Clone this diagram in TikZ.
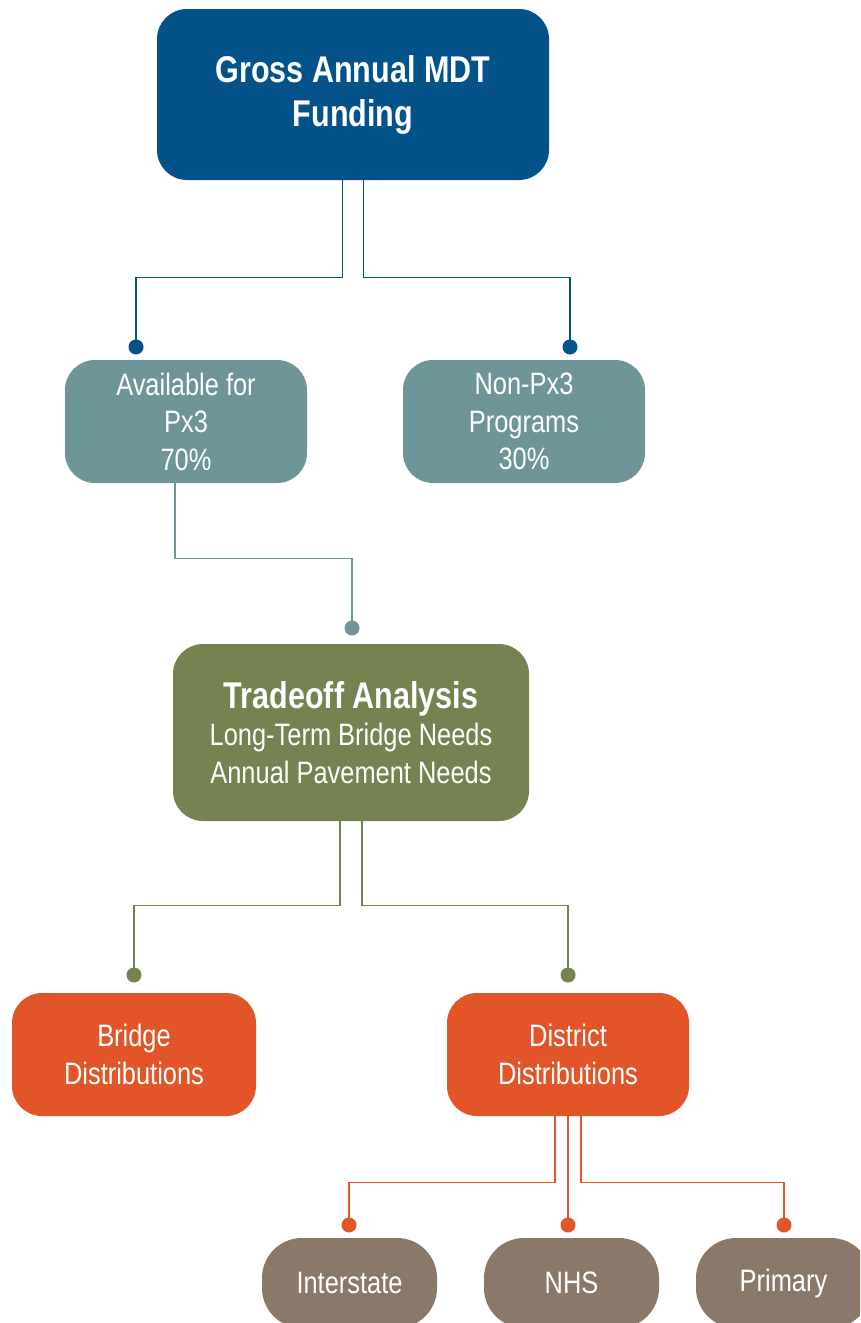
\documentclass[tikz,border=0pt]{standalone}
\usepackage{fontspec}
\setmainfont{Liberation Sans}[FakeStretch=0.82]
\definecolor{cblue}{HTML}{03538A}
\definecolor{cteal}{HTML}{6E9597}
\definecolor{colive}{HTML}{758350}
\definecolor{corange}{HTML}{E25528}
\definecolor{cbrown}{HTML}{8A7968}
\tikzset{
  box/.style={rounded corners=30pt, align=center, text=white, inner sep=0pt, font=\fontsize{31}{37.5}\selectfont},
  dotnode/.style={circle, inner sep=0pt, minimum size=15pt},
  conn/.style={line width=1.3pt},
}
\begin{document}
\begin{tikzpicture}[x=1pt,y=-1pt]
\clip (0,0) rectangle (860,1323);
\fill[white] (0,0) rectangle (860,1323);
% boxes
\node[box, fill=cblue, minimum width=392pt, minimum height=171pt, font=\bfseries\fontsize{37.2}{44}\selectfont] (top) at (353,94.5) {Gross Annual MDT\\Funding};
\node[box, fill=cteal, minimum width=242pt, minimum height=123pt] (avail) at (186,421.5) {Available for\\Px3\\70\%};
\node[box, fill=cteal, minimum width=242pt, minimum height=123pt] (nonpx) at (524,421.5) {Non-Px3\\Programs\\30\%};
\node[box, fill=colive, minimum width=356pt, minimum height=177pt] (trade) at (351,732.5) {{\bfseries\fontsize{37.2}{40}\selectfont Tradeoff Analysis}\\Long-Term Bridge Needs\\Annual Pavement Needs};
\node[box, fill=corange, minimum width=244pt, minimum height=123pt] (bridge) at (134,1054.5) {Bridge\\Distributions};
\node[box, fill=corange, minimum width=242pt, minimum height=123pt] (district) at (568,1054.5) {District\\Distributions};
\node[box, rounded corners=40pt, fill=cbrown, minimum width=175pt, minimum height=90pt] (inter) at (349.5,1283) {Interstate};
\node[box, rounded corners=40pt, fill=cbrown, minimum width=175pt, minimum height=90pt] (nhs) at (571.5,1283) {NHS};
\node[box, rounded corners=40pt, fill=cbrown, minimum width=175pt, minimum height=90pt] (prim) at (783.5,1283) {Primary};
% dots
\node[dotnode, fill=cblue] (d1) at (136,347) {};
\node[dotnode, fill=cblue] (d2) at (570,347) {};
\node[dotnode, fill=cteal] (d3) at (352,628) {};
\node[dotnode, fill=colive] (d4) at (134,975) {};
\node[dotnode, fill=colive] (d5) at (568,975) {};
\node[dotnode, fill=corange] (d6) at (349,1225) {};
\node[dotnode, fill=corange] (d7) at (568,1225) {};
\node[dotnode, fill=corange] (d8) at (784,1225) {};
% connectors
\draw[conn, cblue] ([xshift=-10.5pt]top.south) -- ++(0,97) -| (d1.center);
\draw[conn, cblue] ([xshift=10.5pt]top.south) -- ++(0,97) -| (d2.center);
\draw[conn, cteal] ([xshift=-11pt]avail.south) -- ++(0,75) -| (d3.center);
\draw[conn, colive] ([xshift=-11pt]trade.south) -- ++(0,84) -| (d4.center);
\draw[conn, colive] ([xshift=11pt]trade.south) -- ++(0,84) -| (d5.center);
\draw[conn, corange] ([xshift=-13pt]district.south) -- ++(0,66) -| (d6.center);
\draw[conn, corange] (district.south) -- (d7.center);
\draw[conn, corange] ([xshift=13pt]district.south) -- ++(0,66) -| (d8.center);
\end{tikzpicture}
\end{document}
